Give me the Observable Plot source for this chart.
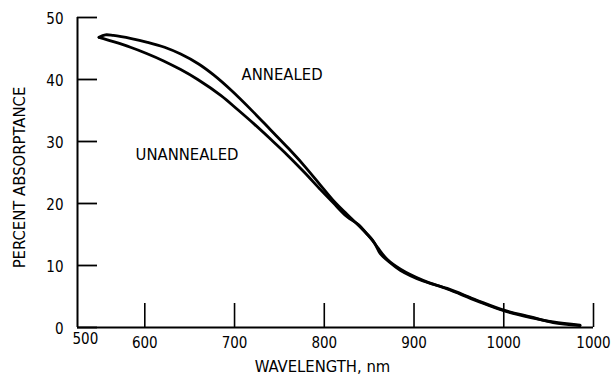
<!DOCTYPE html>
<html>
<head>
<meta charset="utf-8">
<script src="https://cdn.jsdelivr.net/npm/d3@7"></script>
<script src="https://cdn.jsdelivr.net/npm/@observablehq/plot@0.6"></script>
<style>
  html, body { margin: 0; padding: 0; background: #fff; }
  #chart svg { display: block; }
</style>
</head>
<body>
<div id="chart"></div>
<script>
// Annealed curve (upper)
const annealedWavelength = [549, 556, 565, 585, 603, 622, 640, 660, 677, 696, 720, 740, 760, 777, 795, 810, 825, 840, 852, 860, 870, 885, 910, 937, 970, 1000, 1030, 1055, 1085];
const annealedAbsorptance = [46.8, 47.2, 47.1, 46.6, 46.0, 45.2, 44.1, 42.5, 40.7, 38.3, 34.9, 31.9, 28.9, 26.2, 23.1, 20.5, 18.3, 16.2, 14.4, 12.8, 11.0, 9.4, 7.6, 6.2, 4.3, 2.7, 1.6, 0.9, 0.4];
// Unannealed curve (lower)
const unannealedWavelength = [549, 565, 584, 602, 621, 640, 659, 685, 703, 722, 740, 759, 778, 796, 810, 825, 838, 848, 856, 862, 872, 885, 910, 937, 970, 1000, 1030, 1055, 1085];
const unannealedAbsorptance = [46.8, 46.1, 45.2, 44.2, 43.0, 41.6, 40.0, 37.4, 35.2, 32.8, 30.4, 27.8, 25.0, 22.2, 20.1, 17.9, 16.6, 15.0, 13.6, 12.0, 10.6, 9.2, 7.5, 6.3, 4.4, 2.8, 1.7, 0.8, 0.3];

const xDomain = [525, 1100];
const yDomain = [0, 50];
const xTickValues = [600, 700, 800, 900, 1000, 1100];
const xTickLabels = ["600", "700", "800", "900", "1000", "1000"];
const xOriginLabel = "500";
const yTickValues = [0, 10, 20, 30, 40, 50];
const yTickLabels = ["0", "10", "20", "30", "40", "50"];

const curveLabels = ["ANNEALED", "UNANNEALED"];
const curveLabelX = [753, 647];
const curveLabelY = [40.8, 27.8];

const xTitle = "WAVELENGTH, nm";
const yTitle = "PERCENT ABSORPTANCE";

const annealed = annealedWavelength.map((w, i) => ({w, a: annealedAbsorptance[i]}));
const unannealed = unannealedWavelength.map((w, i) => ({w, a: unannealedAbsorptance[i]}));
const labels = curveLabels.map((t, i) => ({t, x: curveLabelX[i], y: curveLabelY[i]}));

const FONT = "'DejaVu Sans Condensed', 'Liberation Sans Narrow', 'Liberation Sans', sans-serif";

const chart = Plot.plot({
  width: 611,
  height: 379,
  marginLeft: 77,
  marginRight: 18,
  marginTop: 17,
  marginBottom: 52,
  style: {fontFamily: FONT, fontSize: "15px", color: "#000", background: "#fff"},
  x: {domain: xDomain},
  y: {domain: yDomain},
  marks: [
    // x ticks (pointing inward)
    Plot.ruleX(xTickValues, {stroke: "#000", strokeWidth: 1.6, insetTop: 286}),
    // y ticks (pointing inward)
    Plot.ruleY(yTickValues, {stroke: "#000", strokeWidth: 1.8, insetRight: 496}),
    Plot.axisX({ticks: xTickValues, tickSize: 0, tickPadding: 10, label: null,
      tickFormat: d => xTickLabels[xTickValues.indexOf(d)], fontSize: 15}),
    Plot.axisY({ticks: yTickValues, tickSize: 0, tickPadding: 14, label: null, dy: 2,
      tickFormat: d => yTickLabels[yTickValues.indexOf(d)], fontSize: 15}),
    Plot.text([xOriginLabel], {x: xDomain[0], frameAnchor: "bottom", dy: 16, dx: -5, textAnchor: "start", fontSize: 15}),
    // axis lines
    Plot.ruleX([xDomain[0]], {stroke: "#000", strokeWidth: 2}),
    Plot.ruleY([yDomain[0]], {stroke: "#000", strokeWidth: 2}),
    // curves
    Plot.line(annealed, {x: "w", y: "a", curve: "catmull-rom", stroke: "#000", strokeWidth: 2.8}),
    Plot.line(unannealed, {x: "w", y: "a", curve: "catmull-rom", stroke: "#000", strokeWidth: 2.8}),
    // curve labels
    Plot.text(labels, {x: "x", y: "y", text: "t", fontSize: 16.5, textAnchor: "middle", lineAnchor: "middle"}),
    // axis titles
    Plot.text([xTitle], {frameAnchor: "bottom", dy: 39, dx: -13, fontSize: 16.5, letterSpacing: "1.8px", textAnchor: "middle", lineAnchor: "middle"}),
    Plot.text([yTitle], {frameAnchor: "left", dx: -58, dy: 5, rotate: -90, fontSize: 16.5, letterSpacing: "0.9px", textAnchor: "middle", lineAnchor: "middle"})
  ]
});
document.getElementById("chart").appendChild(chart);
</script>
</body>
</html>
